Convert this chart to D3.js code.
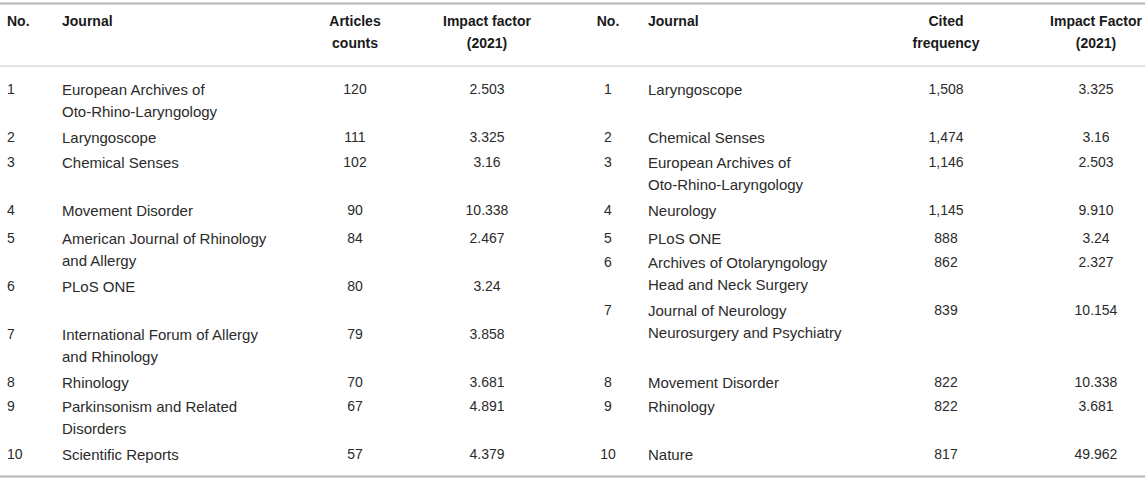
<!DOCTYPE html>
<html>
<head>
<meta charset="utf-8">
<script src="https://cdn.jsdelivr.net/npm/d3@7"></script>
<style>
  html, body { margin: 0; padding: 0; background: #fff; }
  svg { display: block; }
  text { font-family: "Liberation Sans", Arial, Helvetica, sans-serif; }
</style>
</head>
<body>
<svg id="chart" width="1145" height="480"></svg>
<script>
// ---------------- DATA ----------------
const leftHeaders = ["No.", "Journal", "Articles\ncounts", "Impact factor\n(2021)"];
const rightHeaders = ["No.", "Journal", "Cited\nfrequency", "Impact Factor\n(2021)"];

const leftRanks = [1, 2, 3, 4, 5, 6, 7, 8, 9, 10];
const leftJournals = [
  "European Archives of\nOto-Rhino-Laryngology",
  "Laryngoscope",
  "Chemical Senses",
  "Movement Disorder",
  "American Journal of Rhinology\nand Allergy",
  "PLoS ONE",
  "International Forum of Allergy\nand Rhinology",
  "Rhinology",
  "Parkinsonism and Related\nDisorders",
  "Scientific Reports"
];
const leftCounts = [120, 111, 102, 90, 84, 80, 79, 70, 67, 57];
const leftImpact = ["2.503", "3.325", "3.16", "10.338", "2.467", "3.24", "3.858", "3.681", "4.891", "4.379"];

const rightRanks = [1, 2, 3, 4, 5, 6, 7, 8, 9, 10];
const rightJournals = [
  "Laryngoscope",
  "Chemical Senses",
  "European Archives of\nOto-Rhino-Laryngology",
  "Neurology",
  "PLoS ONE",
  "Archives of Otolaryngology\nHead and Neck Surgery",
  "Journal of Neurology\nNeurosurgery and Psychiatry",
  "Movement Disorder",
  "Rhinology",
  "Nature"
];
const rightCited = [1508, 1474, 1146, 1145, 888, 862, 839, 822, 822, 817];
const rightImpact = ["3.325", "3.16", "2.503", "9.910", "3.24", "2.327", "10.154", "10.338", "3.681", "49.962"];

// ---------------- LAYOUT (not data) ----------------
const W = 1145, H = 480;
const lineGap = 22;
// line slot where each row starts (the reference places rows on a shared line grid)
const leftSlots = [0, 2, 3, 5, 6, 8, 10, 12, 13, 15];
const rightSlots = [0, 2, 3, 5, 6, 7, 9, 12, 13, 15];
const yRow = d3.scaleLinear().domain([0, 5, 6, 15]).range([89, 210, 238, 454]);

const leftCols = [
  { x: 7, anchor: "start" },
  { x: 62, anchor: "start" },
  { x: 355, anchor: "middle" },
  { x: 487, anchor: "middle" }
];
const rightCols = [
  { x: 608, anchor: "middle" },
  { x: 648, anchor: "start" },
  { x: 946, anchor: "middle" },
  { x: 1096, anchor: "middle" }
];

const styles = {
  header: { size: 14, weight: "bold", color: "#1a1a1a" },
  name:   { size: 15, weight: "normal", color: "#2b2b2b" },
  num:    { size: 14, weight: "normal", color: "#2b2b2b" }
};

const svg = d3.select("#chart");

// rules
const rules = [
  { y: 3.5, w: 2, c: "#b5b5b5" },
  { y: 66, w: 1, c: "#c4c4c4" },
  { y: 476.5, w: 2, c: "#b5b5b5" }
];
svg.selectAll("line.rule").data(rules).join("line")
  .attr("class", "rule")
  .attr("x1", 0).attr("x2", W)
  .attr("y1", d => d.y).attr("y2", d => d.y)
  .attr("stroke", d => d.c).attr("stroke-width", d => d.w);

function multiText(g, str, x, y, anchor, st) {
  const t = g.append("text")
    .attr("x", x).attr("y", y)
    .attr("text-anchor", anchor)
    .attr("dominant-baseline", "central")
    .attr("font-size", st.size)
    .attr("font-weight", st.weight)
    .attr("fill", st.color);
  String(str).split("\n").forEach((ln, i) => {
    t.append("tspan").attr("x", x).attr("y", y + i * lineGap).text(ln);
  });
}

// headers
const hg = svg.append("g").attr("class", "headers");
leftHeaders.forEach((h, i) => multiText(hg, h, leftCols[i].x, 21, leftCols[i].anchor, styles.header));
rightHeaders.forEach((h, i) => multiText(hg, h, rightCols[i].x, 21, rightCols[i].anchor, styles.header));

const fmt = d3.format(",");
const cellStyle = ci => (ci === 1 ? styles.name : styles.num);

const leftRows = leftRanks.map((r, i) => [String(r), leftJournals[i], String(leftCounts[i]), leftImpact[i]]);
const rightRows = rightRanks.map((r, i) => [String(r), rightJournals[i], fmt(rightCited[i]), rightImpact[i]]);

const lg = svg.append("g").attr("class", "left-body");
leftRows.forEach((row, ri) => {
  const y = yRow(leftSlots[ri]);
  row.forEach((cell, ci) => multiText(lg, cell, leftCols[ci].x, y, leftCols[ci].anchor, cellStyle(ci)));
});
const rg = svg.append("g").attr("class", "right-body");
rightRows.forEach((row, ri) => {
  const y = yRow(rightSlots[ri]);
  row.forEach((cell, ci) => multiText(rg, cell, rightCols[ci].x, y, rightCols[ci].anchor, cellStyle(ci)));
});
</script>
</body>
</html>
